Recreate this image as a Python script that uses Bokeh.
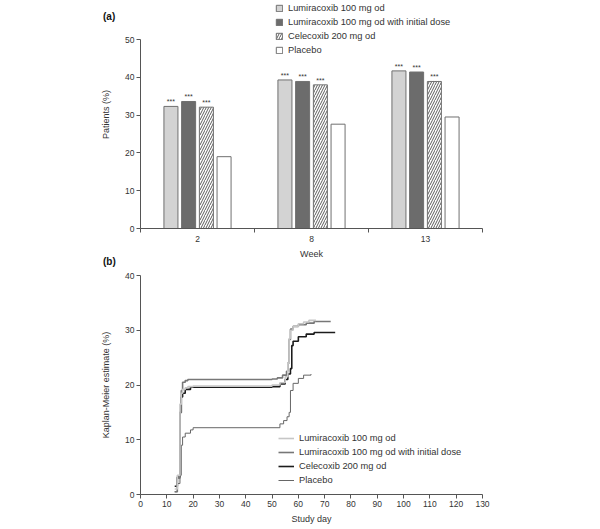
from bokeh.plotting import figure
from bokeh.models import Range1d, FixedTicker, Legend, LegendItem, Div
from bokeh.layouts import column
from bokeh.embed import file_html
from bokeh.resources import INLINE
from bokeh.core.properties import value

# ---------------- data ----------------
weeks = ["2", "8", "13"]
bar_series = ["Lumiracoxib 100 mg od", "Lumiracoxib 100 mg od with initial dose",
              "Celecoxib 200 mg od", "Placebo"]
lumi100_pct = [32.3, 39.3, 41.7]
lumi_init_pct = [33.6, 38.9, 41.4]
celecoxib_pct = [32.1, 38.0, 38.9]
placebo_pct = [19.0, 27.6, 29.5]
signif_marks = ["***", "***", "***", ""]

lumi100_day = [13, 14, 15, 15.5, 16, 17, 18, 20, 50, 53, 55, 56, 56.5, 57, 58, 60, 62, 64, 66.7]
lumi100_km = [1.0, 3.5, 16.5, 18.5, 19.2, 19.5, 19.7, 19.8, 20.0, 20.4, 21.5, 24.0, 28.5, 30.0, 30.7, 31.2, 31.5, 31.8, 31.8]

lumi_init_day = [13, 14, 15, 15.5, 16, 17, 18, 50, 52, 54, 55.5, 56, 56.5, 57, 58, 60, 63, 66, 72.3]
lumi_init_km = [0.5, 3.0, 15.0, 19.0, 20.5, 20.8, 21.0, 21.1, 21.3, 21.8, 22.5, 24.0, 28.3, 30.2, 30.7, 31.0, 31.3, 31.6, 31.6]

celecoxib_day = [13, 14, 15, 15.5, 16, 17, 19, 50, 53, 55, 56, 57, 57.5, 58, 60, 63, 66, 74]
celecoxib_km = [1.5, 3.2, 15.0, 17.8, 18.5, 19.2, 19.6, 19.7, 20.2, 21.0, 22.0, 23.0, 27.2, 28.0, 28.8, 29.3, 29.6, 29.6]

placebo_day = [13, 14, 15, 15.5, 16, 17, 19, 20, 53, 54.4, 55.7, 56.5, 57, 58, 60, 62, 64.8]
placebo_km = [0.5, 2.0, 3.5, 9.0, 10.5, 11.2, 11.8, 12.2, 12.9, 13.5, 14.2, 15.0, 19.0, 20.3, 21.2, 21.8, 22.0]

km_series = ["Lumiracoxib 100 mg od", "Lumiracoxib 100 mg od with initial dose",
             "Celecoxib 200 mg od", "Placebo"]
panel_tags = ["(a)", "(b)"]

FONT = "Liberation Sans"
AXIS_COL = "#555555"
TXT_COL = "#333333"


def style_axes(p):
    for ax in p.axis:
        ax.axis_line_color = AXIS_COL
        ax.axis_line_width = 1
        ax.major_tick_line_color = AXIS_COL
        ax.major_tick_in = 0
        ax.major_tick_out = 4
        ax.minor_tick_line_color = None
        ax.major_label_text_font = FONT
        ax.major_label_text_font_size = "8.5px"
        ax.major_label_text_color = TXT_COL
        ax.major_label_standoff = 2
        ax.axis_label_text_font = FONT
        ax.axis_label_text_font_size = "9px"
        ax.axis_label_text_font_style = "normal"
        ax.axis_label_text_color = TXT_COL
    p.xgrid.grid_line_color = None
    p.ygrid.grid_line_color = None
    p.outline_line_color = None


# ---------------- (a) bar chart ----------------
pa = figure(width=600, height=268, x_range=Range1d(0, 3), y_range=Range1d(0, 60.32),
            output_backend="svg", toolbar_location=None,
            min_border_left=140, min_border_right=118, min_border_top=0, min_border_bottom=40)
pa.background_fill_color = None

bar_values = [lumi100_pct, lumi_init_pct, celecoxib_pct, placebo_pct]
fills = ["#d3d3d3", "#6c6c6c", "white", "white"]
hatches = [None, None, "/", None]
offsets = [-0.233, -0.078, 0.078, 0.233]
bar_w = 0.123
items = []
for j, vals in enumerate(bar_values):
    xs = [i + 0.5 + offsets[j] for i in range(len(weeks))]
    kw = dict(fill_color=fills[j], line_color="#707070", line_width=1)
    if hatches[j]:
        kw.update(hatch_pattern=hatches[j], hatch_color="#333333", hatch_scale=5, hatch_weight=0.8)
    r = pa.vbar(x=xs, top=vals, width=bar_w, bottom=0, **kw)
    items.append(LegendItem(label=bar_series[j], renderers=[r]))
    if signif_marks[j]:
        pa.text(x=xs, y=vals, text=[signif_marks[j]] * len(xs), text_align="center",
                text_baseline="bottom", y_offset=-1, text_font=value(FONT),
                text_font_size="7px", text_color=TXT_COL)

pa.xaxis.ticker = FixedTicker(ticks=[i + 0.5 for i in range(len(weeks))],
                              minor_ticks=list(range(len(weeks) + 1)))
pa.xaxis.major_label_overrides = {i + 0.5: w for i, w in enumerate(weeks)}
pa.yaxis.ticker = FixedTicker(ticks=[0, 10, 20, 30, 40, 50])
pa.yaxis.bounds = (0, 50)
pa.xaxis.axis_label = "Week"
pa.yaxis.axis_label = "Patients (%)"
style_axes(pa)
pa.xaxis.major_tick_out = 0
pa.xaxis.minor_tick_line_color = AXIS_COL
pa.xaxis.minor_tick_in = 0
pa.xaxis.minor_tick_out = 4
pa.xaxis.major_label_standoff = 3
pa.xaxis.axis_label_standoff = 4
pa.yaxis.axis_label_standoff = 11

leg_a = Legend(items=items, location=(135, 173), orientation="vertical",
               glyph_width=8, glyph_height=8, label_height=10, spacing=4,
               label_standoff=5, padding=0, margin=0,
               label_text_font=FONT, label_text_font_size="9.3px", label_text_color=TXT_COL,
               border_line_color=None, background_fill_alpha=0)
pa.add_layout(leg_a, "center")

# ---------------- (b) Kaplan-Meier ----------------
pb = figure(width=600, height=261, x_range=Range1d(0, 130), y_range=Range1d(0, 40),
            output_backend="svg", toolbar_location=None,
            min_border_left=139, min_border_right=112, min_border_top=7, min_border_bottom=35)
pb.background_fill_color = None

km_days = [lumi100_day, lumi_init_day, celecoxib_day, placebo_day]
km_vals = [lumi100_km, lumi_init_km, celecoxib_km, placebo_km]
km_colors = ["#c6c6c6", "#777777", "#1c1c1c", "#666666"]
km_widths = [1.6, 1.6, 1.6, 1.0]
draw_order = [3, 2, 1, 0]
renderers = {}
for j in draw_order:
    renderers[j] = pb.step(x=km_days[j], y=km_vals[j], mode="after",
                           line_color=km_colors[j], line_width=km_widths[j])
km_items = [LegendItem(label=km_series[j], renderers=[renderers[j]]) for j in range(4)]

pb.xaxis.ticker = FixedTicker(ticks=list(range(0, 131, 10)))
pb.yaxis.ticker = FixedTicker(ticks=[0, 10, 20, 30, 40])
pb.xaxis.axis_label = "Study day"
pb.yaxis.axis_label = "Kaplan-Meier estimate (%)"
style_axes(pb)
pb.xaxis.axis_label_standoff = 4
pb.yaxis.axis_label_standoff = 11

leg_b = Legend(items=km_items, location=(138, 9), orientation="vertical",
               glyph_width=16, glyph_height=10, label_height=10, spacing=4,
               label_standoff=5, padding=0, margin=0,
               label_text_font=FONT, label_text_font_size="9.3px", label_text_color=TXT_COL,
               border_line_color=None, background_fill_alpha=0)
pb.add_layout(leg_b, "center")

# panel tags as absolutely positioned text
tag_style = {"position": "absolute", "left": "103px", "font-family": FONT,
             "font-size": "10px", "font-weight": "bold", "color": "#111111",
             "line-height": "12px", "margin": "0", "padding": "0"}
div_a = Div(text=panel_tags[0], styles=dict(tag_style, top="11px"))
div_b = Div(text=panel_tags[1], styles=dict(tag_style, top="256px"))

layout = column(pa, pb, div_a, div_b, spacing=0)
open("out.html", "w").write(file_html(layout, INLINE))
